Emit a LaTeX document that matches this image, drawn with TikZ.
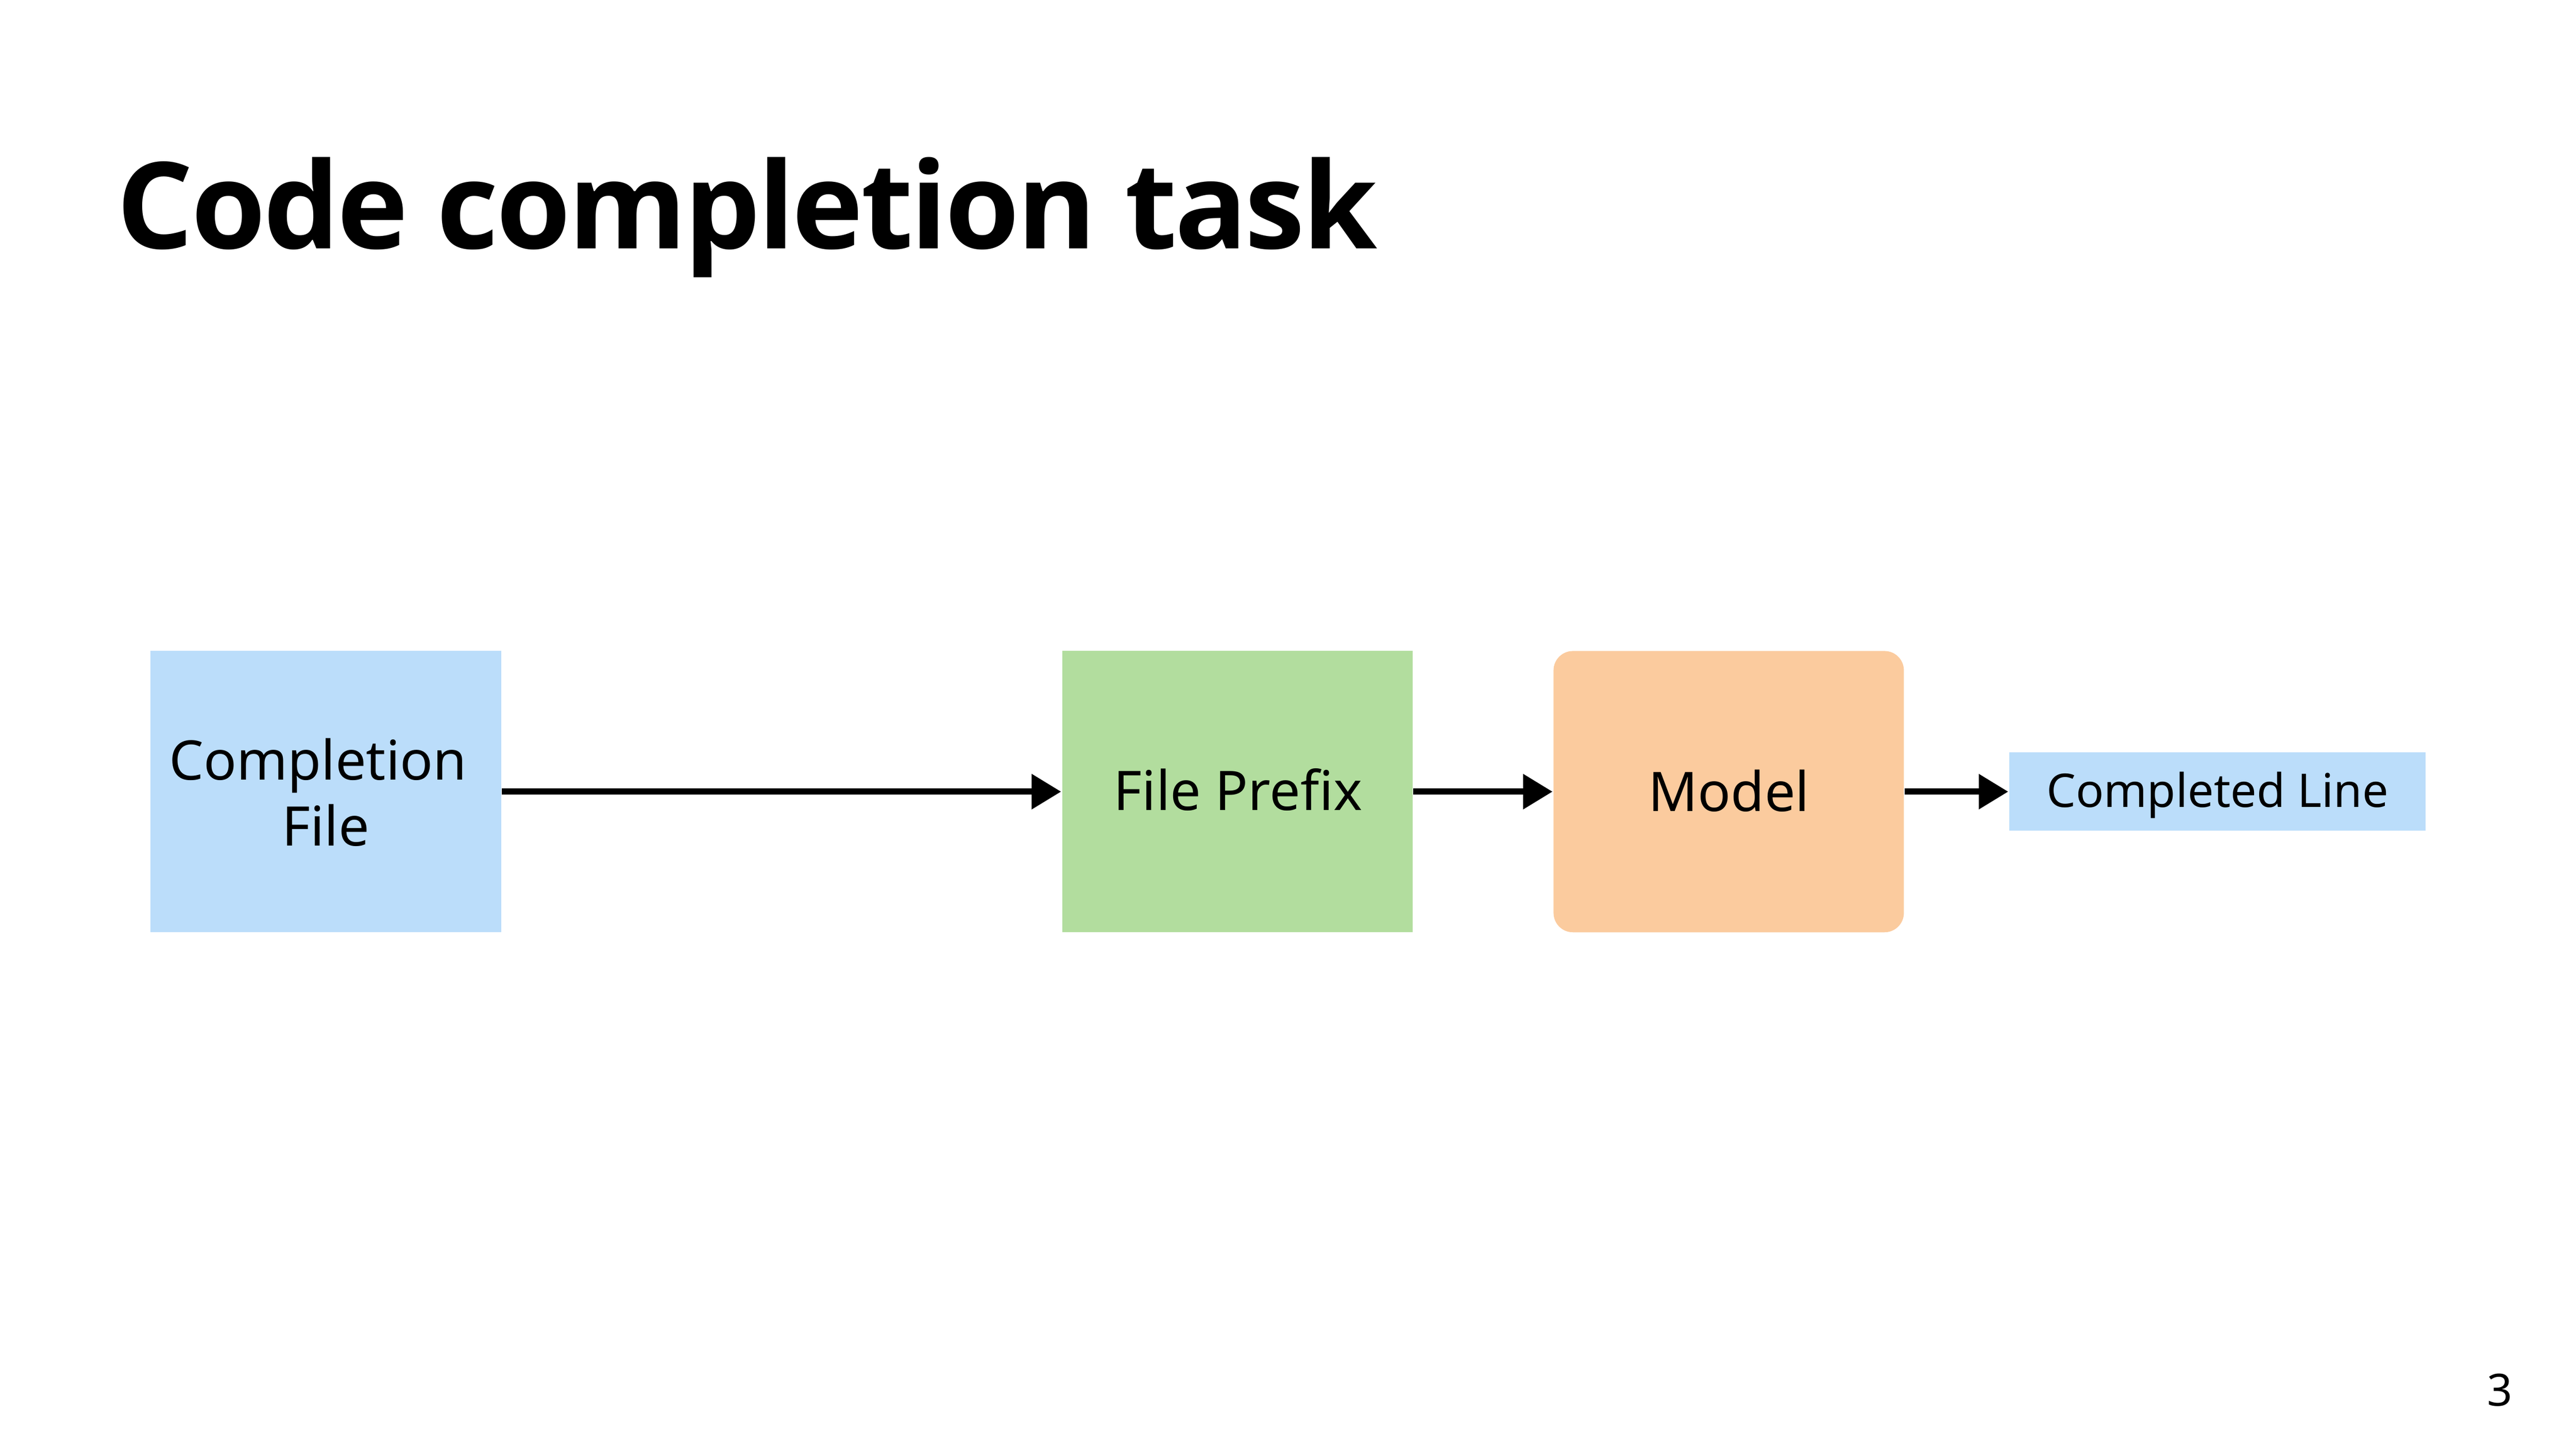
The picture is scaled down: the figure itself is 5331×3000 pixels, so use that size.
\documentclass[tikz,border=0pt]{standalone}
\usepackage{fontspec}
\setmainfont{Noto Sans}
\newfontfamily\titlefont{Open Sans}[LetterSpace=-2]
\usetikzlibrary{arrows.meta}
\definecolor{boxblue}{RGB}{187,221,250}
\definecolor{boxgreen}{RGB}{178,221,158}
\definecolor{boxorange}{RGB}{251,203,158}
\tikzset{
  block/.style={rectangle, inner sep=0pt, draw=none},
  lbl/.style={anchor=base, inner sep=0pt, font=\fontsize{11.3pt}{13.6pt}\selectfont},
  flow/.style={line width=1.3pt, -{Triangle[length=6.1pt,width=7pt]}},
}
\begin{document}
\begin{tikzpicture}[x=0.1pt,y=-0.1pt]
\useasboundingbox (0,0) rectangle (5331,3000);
\fill[white] (0,0) rectangle (5331,3000);
% title
\node[anchor=base west, inner sep=0pt, font=\titlefont\bfseries\fontsize{24.9pt}{30pt}\selectfont] (title) at (240,514) {Code completion task};
% boxes
\node[block, fill=boxblue, minimum width=72.6pt, minimum height=58.2pt] (cf) at (674,1638) {};
\node[block, fill=boxgreen, minimum width=72.5pt, minimum height=58.2pt] (fp) at (2560.5,1638) {};
\node[block, fill=boxorange, rounded corners=4pt, minimum width=72.5pt, minimum height=58.2pt] (md) at (3577.5,1638) {};
\node[block, fill=boxblue, minimum width=86.2pt, minimum height=16.2pt] (cl) at (4589,1638) {};
% labels
\node[lbl] (cft1) at (658,1614) {Completion};
\node[lbl] (cft2) at (674,1750) {File};
\node[lbl] (fpt) at (2562,1677) {File Prefix};
\node[lbl] (mdt) at (3578,1679) {Model};
\node[lbl, font=\fontsize{9.6pt}{12pt}\selectfont] (clt) at (4589,1670) {Completed Line};
% page number
\node[anchor=base, inner sep=0pt, font=\fontsize{9.2pt}{11pt}\selectfont] (pg) at (5173,2909) {3};
% connectors
\draw[flow] (cf.east) -- (fp.west);
\draw[flow] (fp.east) -- (md.west);
\draw[flow] (md.east) -- (cl.west);
\end{tikzpicture}
\end{document}
